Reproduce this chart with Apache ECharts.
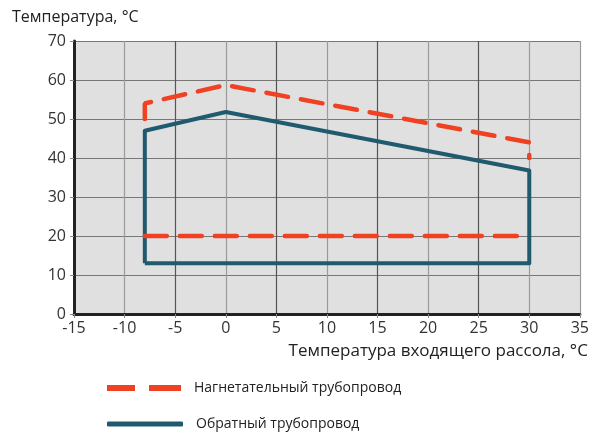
<!DOCTYPE html>
<html>
<head>
<meta charset="utf-8">
<script src="https://cdn.jsdelivr.net/npm/echarts@6/dist/echarts.min.js"></script>
<style>
  html, body { margin: 0; padding: 0; background: #fff; }
  #chart { width: 592px; height: 432px; }
</style>
</head>
<body>
<div id="chart"></div>
<script>
// Operating envelope: inlet brine temperature (°C) vs. line temperature (°C)
const supplyName = 'Нагнетательный трубопровод';
const returnName = 'Обратный трубопровод';

// Supply line, upper limit
const supplyUpper = [[-8, 50], [-8, 54], [0, 58.7], [30, 44], [30, 40]];
// Supply line, lower limit
const supplyLower = [[-8, 20], [30, 20]];
// Return line, closed envelope
const returnEnvelope = [[-8, 13], [-8, 47], [0, 51.8], [30, 36.8], [30, 13], [-8, 13]];

const xTicks = { min: -15, max: 35, step: 5 };
const yTicks = { min: 0, max: 70, step: 10 };

const FONT = '"Open Sans", "Noto Sans", sans-serif';
const RED = '#f04123';
const BLUE = '#1f5a6e';
const DARK_GRID = '#555';
const LIGHT_GRID = '#9a9a9a';

const chart = echarts.init(document.getElementById('chart'), null, { renderer: 'canvas' });

const redStyle = { color: RED, width: 4.5, type: [22, 13], cap: 'round' };

const legendText = { fontFamily: FONT, fontSize: 14, color: '#222', padding: [0, 0, 0, 8] };

// vertical grid lines alternate dark/light; the right border is light
const xGridColors = [];
for (let v = xTicks.min, i = 0; v <= xTicks.max; v += xTicks.step, i++) {
  xGridColors.push(v === xTicks.max || i % 2 === 1 ? LIGHT_GRID : DARK_GRID);
}

chart.setOption({
  animation: false,
  backgroundColor: '#ffffff',
  textStyle: { fontFamily: FONT },
  grid: { left: 74, right: 11, top: 41, bottom: 118, show: true, backgroundColor: '#e0e0e0', borderWidth: 0 },
  title: {
    text: 'Температура, °C',
    left: 7, top: 4,
    textStyle: { fontFamily: FONT, fontSize: 16, fontWeight: 'normal', color: '#222' }
  },
  legend: [
    {
      left: 102, top: 376,
      itemWidth: 74, itemHeight: 6,
      textStyle: legendText,
      data: [{ name: supplyName, icon: 'path://M0,0 L28,0 L28,6 L0,6 Z M42,0 L74,0 L74,6 L42,6 Z', itemStyle: { color: RED } }]
    },
    {
      left: 102, top: 412,
      itemWidth: 76, itemHeight: 5,
      textStyle: legendText,
      data: [{ name: returnName, icon: 'roundRect', itemStyle: { color: BLUE } }]
    }
  ],
  xAxis: {
    type: 'value',
    min: xTicks.min, max: xTicks.max, interval: xTicks.step,
    name: 'Температура входящего рассола, °C',
    nameLocation: 'end',
    nameGap: 0,
    nameTextStyle: { fontFamily: FONT, fontSize: 17, color: '#222', align: 'right', verticalAlign: 'top', padding: [29, -8, 0, 0] },
    axisLine: { show: true, onZero: false, lineStyle: { color: '#222', width: 3 } },
    axisTick: { show: true, length: 4, lineStyle: { color: '#888' } },
    axisLabel: { fontFamily: FONT, fontSize: 16, color: '#333', margin: 6 },
    splitLine: { show: true, lineStyle: { color: xGridColors, width: 1.2 } }
  },
  yAxis: {
    type: 'value',
    min: yTicks.min, max: yTicks.max, interval: yTicks.step,
    axisLine: { show: true, onZero: false, lineStyle: { color: '#222', width: 3 } },
    axisTick: { show: true, length: 4, lineStyle: { color: '#888' } },
    axisLabel: { fontFamily: FONT, fontSize: 16, color: '#333', margin: 8 },
    splitLine: { show: true, lineStyle: { color: '#777', width: 1.2 } }
  },
  series: [
    {
      name: supplyName, type: 'line', data: supplyUpper,
      symbol: 'none', lineStyle: redStyle, itemStyle: { color: RED }, z: 3
    },
    {
      name: supplyName, type: 'line', data: supplyLower,
      symbol: 'none', lineStyle: redStyle, itemStyle: { color: RED }, z: 3
    },
    {
      name: returnName, type: 'line', data: returnEnvelope,
      symbol: 'none', lineStyle: { color: BLUE, width: 4, join: 'round' }, itemStyle: { color: BLUE }, z: 2
    }
  ]
});
</script>
</body>
</html>
